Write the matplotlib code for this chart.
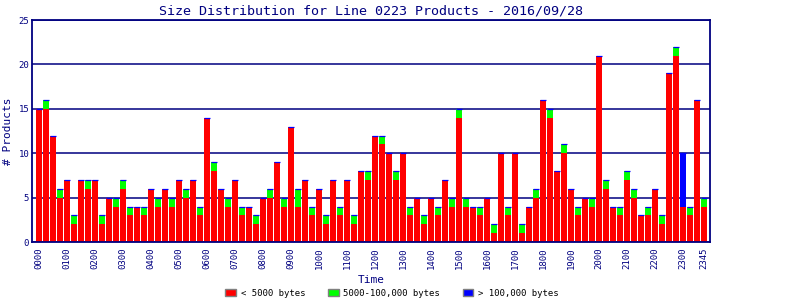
import numpy as np
import matplotlib.pyplot as plt
from matplotlib.patches import Patch

# 15-minute slots, 0000 .. 2345
small = [15, 15, 12, 5, 7, 2, 7, 6, 7, 2, 5, 4, 6, 3, 4, 3,
         6, 4, 6, 4, 7, 5, 7, 3, 14, 8, 6, 4, 7, 3, 4, 2,
         5, 5, 9, 4, 13, 4, 7, 3, 6, 2, 7, 3, 7, 2, 8, 7,
         12, 11, 10, 7, 10, 3, 5, 2, 5, 3, 7, 4, 14, 4, 4, 3,
         5, 1, 10, 3, 10, 1, 4, 5, 16, 14, 8, 10, 6, 3, 5, 4,
         21, 6, 4, 3, 7, 5, 3, 3, 6, 2, 19, 21, 4, 3, 16, 4]
medium = [0, 1, 0, 1, 0, 1, 0, 1, 0, 1, 0, 1, 1, 1, 0, 1,
          0, 1, 0, 1, 0, 1, 0, 1, 0, 1, 0, 1, 0, 1, 0, 1,
          0, 1, 0, 1, 0, 2, 0, 1, 0, 1, 0, 1, 0, 1, 0, 1,
          0, 1, 0, 1, 0, 1, 0, 1, 0, 1, 0, 1, 1, 1, 0, 1,
          0, 1, 0, 1, 0, 1, 0, 1, 0, 1, 0, 1, 0, 1, 0, 1,
          0, 1, 0, 1, 1, 1, 0, 1, 0, 1, 0, 1, 0, 1, 0, 1]
large = [0] * 96
large[92] = 6

labels = ["%02d%02d" % (h, m) for h in range(24) for m in (0, 15, 30, 45)]
tick_idx = list(range(0, 96, 4)) + [95]

navy = "#000080"
font = "DejaVu Sans Mono"

x = np.arange(len(small))
small = np.array(small)
medium = np.array(medium)
large = np.array(large)
total = small + medium + large

fig = plt.figure(figsize=(8, 3), dpi=100)
ax = fig.add_axes([0.04, 0.193, 0.8475, 0.74])

w = 0.85
ax.bar(x, small, width=w, color="#ff0000", zorder=2)
ax.bar(x, medium, width=w, bottom=small, color="#00ff00", zorder=2)
ax.bar(x, large, width=w, bottom=small + medium, color="#0000ff", zorder=2)
ax.hlines(total, x - w / 2, x + w / 2, color="#0000ff", lw=0.9, zorder=3)

ax.set_xlim(-1, 95.85)
ax.set_ylim(0, 25)
ax.set_yticks([0, 5, 10, 15, 20, 25])
ax.set_xticks(tick_idx)
ax.set_xticklabels([labels[i] for i in tick_idx], rotation=90,
                   fontsize=6.5, color=navy, family=font)
ax.tick_params(axis="y", labelsize=6.5, labelcolor=navy, length=0, pad=2)
ax.tick_params(axis="x", length=0, pad=4)
for lab in ax.get_yticklabels():
    lab.set_family(font)
ax.yaxis.grid(True, color=navy, lw=1.1, zorder=1)
for s in ax.spines.values():
    s.set_color(navy)
    s.set_linewidth(1.3)

ax.set_title("Size Distribution for Line 0223 Products - 2016/09/28",
             color=navy, family=font, fontsize=9.6, pad=4)
ax.set_xlabel("Time", color=navy, family=font, fontsize=8, labelpad=4)
ax.set_ylabel("# Products", color=navy, family=font, fontsize=8, labelpad=4)

handles = [Patch(facecolor="#ff0000", edgecolor="gray", label="< 5000 bytes"),
           Patch(facecolor="#00ff00", edgecolor="gray", label="5000-100,000 bytes"),
           Patch(facecolor="#0000ff", edgecolor="gray", label="> 100,000 bytes")]
fig.legend(handles=handles, loc="lower center", bbox_to_anchor=(0.49, -0.02),
           ncol=3, frameon=False, handlelength=1.2, handleheight=0.8,
           columnspacing=2.5, handletextpad=0.5,
           prop={"family": font, "size": 6.5})

fig.savefig("out.png", dpi=100)
